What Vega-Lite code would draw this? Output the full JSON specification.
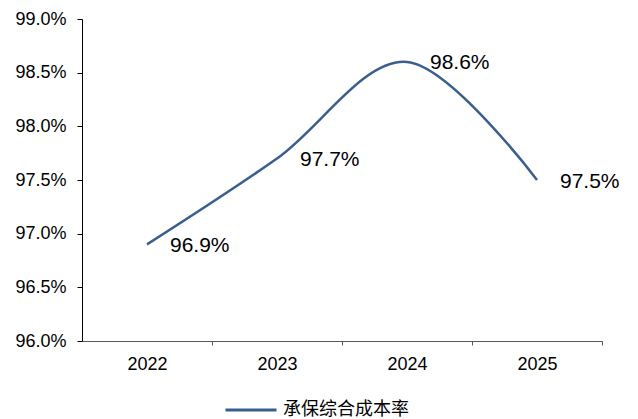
{
  "$schema": "https://vega.github.io/schema/vega-lite/v6.json",
  "width": 520,
  "height": 322,
  "autosize": "none",
  "padding": {"left": 82, "top": 19, "right": 36, "bottom": 78},
  "background": "white",
  "config": {
    "view": {"stroke": null},
    "font": "Liberation Sans"
  },
  "data": {
    "values": [
      {"year": "2022", "ratio": 0.969, "series": "承保综合成本率"},
      {"year": "2023", "ratio": 0.977, "series": "承保综合成本率"},
      {"year": "2024", "ratio": 0.986, "series": "承保综合成本率"},
      {"year": "2025", "ratio": 0.975, "series": "承保综合成本率"}
    ]
  },
  "encoding": {
    "x": {
      "field": "year",
      "type": "ordinal",
      "scale": {"type": "band", "paddingInner": 0, "paddingOuter": 0},
      "axis": {
        "title": null,
        "labelAngle": 0,
        "labelFontSize": 18,
        "labelColor": "#000000",
        "labelPadding": 10,
        "tickSize": 4,
        "tickOffset": 65,
        "labelOffset": -65,
        "tickColor": "#595959",
        "domainColor": "#595959",
        "grid": false
      }
    },
    "y": {
      "field": "ratio",
      "type": "quantitative",
      "scale": {"domain": [0.96, 0.99], "nice": false, "zero": false},
      "axis": {
        "title": null,
        "values": [0.96, 0.965, 0.97, 0.975, 0.98, 0.985, 0.99],
        "format": ".1%",
        "labelFontSize": 18,
        "labelColor": "#000000",
        "labelPadding": 11,
        "tickSize": 5,
        "tickColor": "#000000",
        "domainColor": "#000000",
        "grid": false
      }
    }
  },
  "layer": [
    {
      "mark": {"type": "line", "interpolate": "cardinal", "strokeWidth": 2.5},
      "encoding": {
        "color": {
          "field": "series",
          "type": "nominal",
          "scale": {"range": ["#3A5F8F"]},
          "legend": {
            "title": null,
            "orient": "none",
            "legendX": 142,
            "legendY": 364,
            "padding": 0,
            "symbolType": "stroke",
            "symbolSize": 2601,
            "symbolStrokeWidth": 3,
            "labelFont": "Noto Sans CJK SC",
            "labelFontSize": 18,
            "labelColor": "#000000",
            "labelOffset": 5
          }
        }
      }
    },
    {
      "mark": {
        "type": "text",
        "align": "left",
        "baseline": "middle",
        "dx": 23,
        "dy": 1.5,
        "fontSize": 21,
        "color": "#000000"
      },
      "encoding": {
        "text": {"field": "ratio", "type": "quantitative", "format": ".1%"}
      }
    }
  ]
}
